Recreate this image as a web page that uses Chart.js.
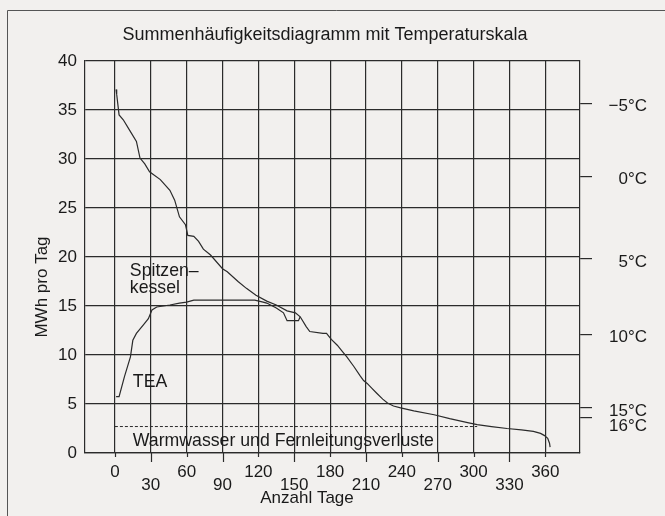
<!DOCTYPE html>
<html>
<head>
<meta charset="utf-8">
<script src="https://cdn.jsdelivr.net/npm/chart.js@4/dist/chart.umd.min.js"></script>
<style>
html,body{margin:0;padding:0;background:#f2f0ee;}
canvas{display:block;}
</style>
</head>
<body>
<canvas id="c" width="665" height="516"></canvas>
<script>
// ---- data ----
const chartTitle = "Summenhäufigkeitsdiagramm mit Temperaturskala";
const yTitle = "MWh pro Tag";
const xTitle = "Anzahl Tage";
const xTicks = [0,30,60,90,120,150,180,210,240,270,300,330,360];

const totalDays = [1,1.5,3.5,7,12,18,21,25,29,38,46,50,54,59,61,66,70,74,80,90,94,103,110,118,127,135,144,151,155,160,163,174,177,181,186,190,194,200,205,208,211,215,219,224,228,233,239,250,267,280,295,303,315,328,340,350,356,359,362,363.5,364];
const totalMWh  = [37.1,36.6,34.5,34.0,33.0,31.8,30.1,29.5,28.7,27.9,26.8,25.8,24.1,23.3,22.2,22.1,21.6,20.8,20.2,18.8,18.5,17.5,16.8,16.1,15.5,15.1,14.5,14.3,13.9,12.9,12.4,12.2,12.2,11.6,11.0,10.4,9.8,8.8,7.9,7.4,7.1,6.6,6.1,5.5,5.1,4.8,4.6,4.3,3.9,3.5,3.1,2.9,2.7,2.5,2.35,2.2,2.0,1.8,1.5,1.0,0.6];

const teaDays = [1,3.5,8,13,15,18,24,28,31,35,46,54,60,66,94,117,124,127,135,141,144,153.5,155];
const teaMWh  = [5.75,5.75,7.8,9.8,11.5,12.2,13.1,13.7,14.6,14.9,15.1,15.3,15.4,15.6,15.6,15.6,15.4,15.3,14.8,14.3,13.5,13.5,13.9];

const dhwDays = [0,303];
const dhwMWh  = [2.7,2.7];

const tempLabels = ["\u22125\u00B0C","0\u00B0C","5\u00B0C","10\u00B0C","15\u00B0C","16\u00B0C"];
const tempMWh    = [35.7,28.2,19.8,12.1,4.6,3.6];

// annotations: [text, day, MWh]
const notes = [["Spitzen\u2013",12.5,18.6],["kessel",12.5,16.8],["TEA",15,7.2],["Warmwasser und Fernleitungsverluste",15,1.2]];

const ink = '#2b2b2b';
const FONT = 'Liberation Sans, Arial, Helvetica, sans-serif';

const pts = (xs, ys) => xs.map((x,i)=>({x:x,y:ys[i]}));

const deco = {
  id:'deco',
  beforeDraw(chart){
    const ctx = chart.ctx;
    ctx.save();
    ctx.fillStyle = '#f2f0ee';
    ctx.fillRect(0,0,chart.width,chart.height);
    ctx.strokeStyle = '#555';
    ctx.lineWidth = 1;
    ctx.beginPath();
    ctx.moveTo(7.5,516); ctx.lineTo(7.5,10.5); ctx.lineTo(665,10.5);
    ctx.stroke();
    ctx.restore();
  },
  afterDraw(chart){
    const ctx = chart.ctx;
    const xs = chart.scales.x, ys = chart.scales.y, y2 = chart.scales.y2;
    const ca = chart.chartArea;
    ctx.save();
    ctx.strokeStyle = ink; ctx.lineWidth = 1.2;
    xTicks.forEach(v=>{
      const px = Math.round(xs.getPixelForValue(v))+0.5;
      ctx.beginPath();
      ctx.moveTo(px, ca.bottom);
      ctx.lineTo(px, ca.bottom + (v % 60 === 0 ? 4 : 9));
      ctx.stroke();
    });
    ctx.fillStyle = '#1a1a1a';
    ctx.textBaseline = 'middle';
    ctx.font = '18px ' + FONT;
    ctx.textAlign = 'center';
    ctx.fillText(chartTitle, 325, 35);
    ctx.font = '17px ' + FONT;
    ctx.fillText(xTitle, 307, 498);
    ctx.save();
    ctx.translate(42, 287);
    ctx.rotate(-Math.PI/2);
    ctx.fillText(yTitle, 0, 0);
    ctx.restore();
    // temperature labels, right aligned, pushed apart when crowded
    ctx.textAlign = 'right';
    ctx.font = '17px ' + FONT;
    let lastY = -1e9;
    tempMWh.forEach((v,i)=>{
      let py = y2.getPixelForValue(v) + 3;
      if (py < lastY + 15) py = lastY + 15;
      lastY = py;
      ctx.fillText(tempLabels[i], 647, py);
    });
    ctx.textAlign = 'left';
    ctx.font = '17.7px ' + FONT;
    notes.forEach(n=>{
      ctx.fillText(n[0], xs.getPixelForValue(n[1]), ys.getPixelForValue(n[2]));
    });
    ctx.restore();
  }
};

new Chart(document.getElementById('c'), {
  type:'line',
  data:{
    datasets:[
      {data:pts(totalDays,totalMWh), borderColor:ink, borderWidth:1.2, pointRadius:0, tension:0, fill:false},
      {data:pts(teaDays,teaMWh), borderColor:ink, borderWidth:1.2, pointRadius:0, tension:0, fill:false},
      {data:pts(dhwDays,dhwMWh), borderColor:ink, borderWidth:1, borderDash:[3,2], pointRadius:0, tension:0, fill:false}
    ]
  },
  plugins:[deco],
  options:{
    responsive:false,
    animation:false,
    layout:{padding:{top:61,left:0,right:0,bottom:0}},
    plugins:{legend:{display:false},tooltip:{enabled:false},title:{display:false}},
    scales:{
      x:{
        type:'linear', min:-25, max:389, position:'bottom',
        afterBuildTicks(s){ s.ticks = xTicks.map(v=>({value:v})); },
        afterFit(s){ s.height = 63; },
        grid:{color:ink, lineWidth:1.2, drawTicks:false},
        border:{color:ink, width:1.2},
        ticks:{
          color:'#1a1a1a', padding:12.5, maxRotation:0, autoSkip:false,
          font:{family:FONT, size:17, lineHeight:0.76},
          callback:(v)=> (v % 60 === 0) ? [String(v),''] : ['',String(v)]
        }
      },
      y:{
        min:0, max:40, position:'left',
        afterFit(s){ s.width = 85; },
        grid:{color:ink, lineWidth:1.2, drawTicks:false},
        border:{color:ink, width:1.2},
        ticks:{stepSize:5, padding:8, color:'#1a1a1a', font:{family:FONT, size:17}}
      },
      y2:{
        min:0, max:40, position:'right',
        afterFit(s){ s.width = 85; },
        afterBuildTicks(s){ s.ticks = tempMWh.map(v=>({value:v})); },
        grid:{drawOnChartArea:false, drawTicks:true, tickLength:12, color:ink, lineWidth:1.2},
        border:{color:ink, width:1.2},
        ticks:{display:false, autoSkip:false}
      }
    }
  }
});
</script>
</body>
</html>
